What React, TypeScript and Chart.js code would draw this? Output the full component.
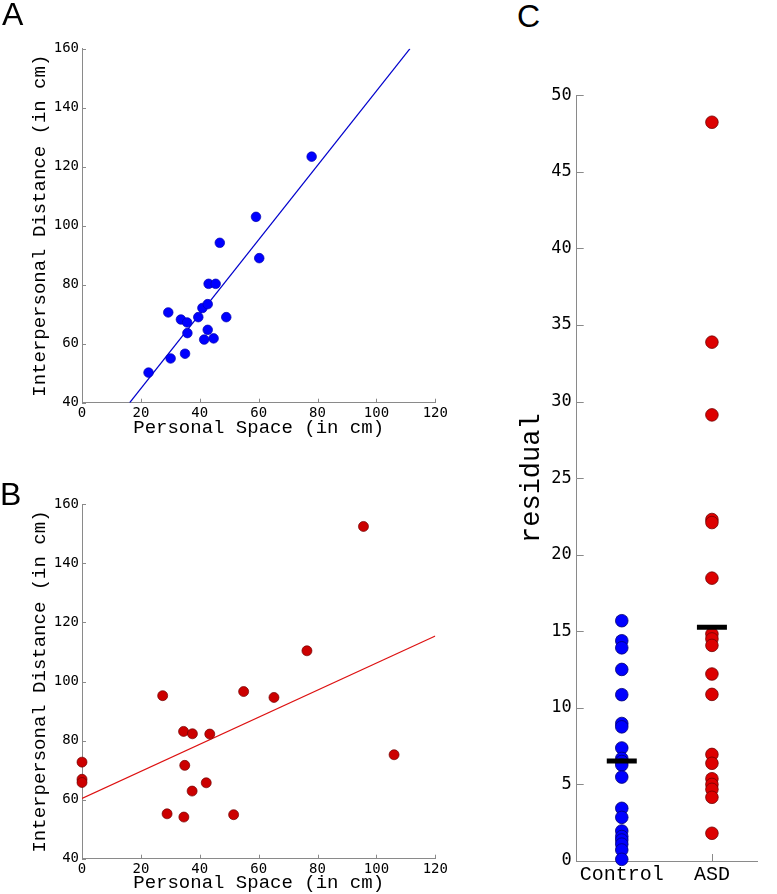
import React, { useEffect, useRef } from 'react';
import { Chart, registerables } from 'chart.js';

Chart.register(...registerables);

// ---------- Panel A: Control ----------
const personalSpaceControl = [22.6, 29.3, 30.1, 33.6, 35.7, 35.8, 35.0, 39.5, 40.9, 42.7, 43.0, 45.4, 42.7, 41.5, 44.7, 46.8, 49.0, 59.1, 60.2, 78.0];
const interpersonalControl = [50.2, 70.6, 55.0, 68.2, 67.2, 63.6, 56.6, 69.0, 72.1, 73.4, 80.3, 80.3, 64.7, 61.4, 61.8, 94.2, 69.0, 103.0, 89.0, 123.4];
const fitControlX = [16.2, 111.4];
const fitControlY = [40, 160];

// ---------- Panel B: ASD ----------
const personalSpaceASD = [0, 0, 0, 27.4, 28.9, 34.5, 37.5, 43.4, 34.9, 37.4, 42.2, 34.6, 51.5, 54.9, 65.2, 76.4, 95.6, 106.0];
const interpersonalASD = [72.7, 66.9, 65.8, 95.2, 55.2, 83.1, 82.3, 82.2, 71.6, 62.9, 65.7, 54.1, 54.9, 96.6, 94.6, 110.4, 152.5, 75.2];
const fitASDX = [0, 120];
const fitASDY = [60.4, 115.4];

// ---------- Panel C: residuals ----------
const groups = ['Control', 'ASD'];
const residualControl = [15.69, 14.38, 13.92, 12.51, 10.86, 8.98, 8.76, 7.38, 6.7, 6.5, 6.27, 5.48, 3.44, 2.85, 1.96, 1.6, 1.37, 1.1, 0.72, 0.11];
const residualASD = [48.24, 33.88, 29.13, 22.3, 22.1, 18.47, 14.82, 14.5, 14.08, 12.21, 10.88, 6.96, 6.38, 5.37, 5.0, 4.68, 4.16, 1.81];
const groupMeans = [6.53, 15.27];

// ticks
const psTicks = { min: 0, max: 120, step: 20 };
const idTicks = { min: 40, max: 160, step: 20 };
const resTicks = { min: 0, max: 50, step: 5 };

const AXIS_COLOR = '#8a8a8a';

function inwardTicks(len: number, xCats?: number[]) {
  return {
    id: 'inwardTicks',
    beforeDatasetsDraw(chart: any) {
      const ctx = chart.ctx;
      const xs = chart.scales.x;
      const ys = chart.scales.y;
      ctx.save();
      ctx.strokeStyle = AXIS_COLOR;
      ctx.lineWidth = 1;
      const xvals = xCats ? xCats : xs.ticks.map((t: any) => t.value);
      xvals.forEach((v: number) => {
        const px = Math.round(xs.getPixelForValue(v)) + 0.5;
        ctx.beginPath();
        ctx.moveTo(px, ys.bottom);
        ctx.lineTo(px, ys.bottom - len);
        ctx.stroke();
      });
      ys.ticks.forEach((t: any) => {
        const py = Math.round(ys.getPixelForValue(t.value)) + 0.5;
        ctx.beginPath();
        ctx.moveTo(xs.left, py);
        ctx.lineTo(xs.left + len, py);
        ctx.stroke();
      });
      ctx.restore();
    },
  };
}

const tickFontSmall = { family: 'DejaVu Sans Mono', size: 14 };
const titleFont = { family: 'Liberation Mono', size: 19 };
const noGrid = { display: false, drawTicks: false, tickLength: 0 };

function scatterConfig(
  xs: number[], ys: number[], fx: number[], fy: number[],
  fill: string, edge: string, lineColor: string, radius: number,
  padTop: number, xHeight: number, titleBottomPad: number
) {
  return {
    type: 'scatter',
    data: {
      datasets: [
        {
          data: xs.map((x, i) => ({ x, y: ys[i] })),
          backgroundColor: fill,
          borderColor: edge,
          borderWidth: 0.7,
          pointRadius: radius,
          clip: false,
          order: 1,
        },
        {
          data: fx.map((x, i) => ({ x, y: fy[i] })),
          showLine: true,
          borderColor: lineColor,
          borderWidth: 1.2,
          pointRadius: 0,
          order: 2,
        },
      ],
    },
    options: {
      responsive: false,
      animation: false,
      devicePixelRatio: 1,
      layout: { padding: { top: padTop, right: 14.7, left: 0, bottom: 0 } },
      plugins: { legend: { display: false }, tooltip: { enabled: false } },
      scales: {
        x: {
          type: 'linear',
          min: psTicks.min,
          max: psTicks.max,
          ticks: { stepSize: psTicks.step, font: tickFontSmall, color: '#000', padding: 2, autoSkip: false, maxRotation: 0 },
          grid: noGrid,
          border: { color: AXIS_COLOR, width: 1 },
          title: { display: true, text: 'Personal Space (in cm)', font: titleFont, color: '#000', padding: { top: 0, bottom: titleBottomPad } },
          afterFit: (s: any) => { s.height = xHeight; },
        },
        y: {
          type: 'linear',
          min: idTicks.min,
          max: idTicks.max,
          ticks: { stepSize: idTicks.step, font: tickFontSmall, color: '#000', padding: 3, autoSkip: false },
          grid: noGrid,
          border: { color: AXIS_COLOR, width: 1 },
          title: { display: true, text: 'Interpersonal Distance (in cm)', font: titleFont, color: '#000', padding: { top: 28.6, bottom: 0 } },
          afterFit: (s: any) => { s.width = 82; },
        },
      },
    },
    plugins: [inwardTicks(4)],
  };
}

function residualConfig() {
  const dots = (vals: number[], gi: number, fill: string, edge: string) => ({
    data: vals.map((v) => ({ x: gi + 1, y: v })),
    backgroundColor: fill,
    borderColor: edge,
    borderWidth: 0.8,
    pointRadius: 6.3,
    clip: false,
    order: 2,
  });
  return {
    type: 'scatter',
    data: {
      datasets: [
        dots(residualControl, 0, '#0000ff', '#00006e'),
        dots(residualASD, 1, '#dd0000', '#6e0000'),
        {
          data: groupMeans.map((m, i) => ({ x: i + 1, y: m })),
          pointStyle: 'line',
          pointRadius: 15,
          borderColor: '#000',
          backgroundColor: '#000',
          borderWidth: 5,
          order: 0,
        },
      ],
    },
    options: {
      responsive: false,
      animation: false,
      devicePixelRatio: 1,
      layout: { padding: { top: 35.3, right: 1.5, left: 0, bottom: 0 } },
      plugins: { legend: { display: false }, tooltip: { enabled: false } },
      scales: {
        x: {
          type: 'linear',
          min: 0.5,
          max: groups.length + 0.5,
          afterBuildTicks: (s: any) => { s.ticks = groups.map((_, i) => ({ value: i + 1 })); },
          ticks: {
            callback: (v: any) => groups[Math.round(Number(v)) - 1] ?? '',
            font: { family: 'Liberation Mono', size: 20 },
            color: '#000',
            padding: 2,
            autoSkip: false,
            maxRotation: 0,
          },
          grid: noGrid,
          border: { color: AXIS_COLOR, width: 1 },
          afterFit: (s: any) => { s.height = 33; },
        },
        y: {
          type: 'linear',
          min: resTicks.min,
          max: resTicks.max,
          ticks: { stepSize: resTicks.step, font: { family: 'DejaVu Sans Mono', size: 17 }, color: '#000', padding: 5, autoSkip: false },
          grid: noGrid,
          border: { color: AXIS_COLOR, width: 1 },
          title: { display: true, text: 'residual', font: { family: 'Liberation Mono', size: 27 }, color: '#000', padding: { top: 35.8, bottom: 0 } },
          afterFit: (s: any) => { s.width = 96.7; },
        },
      },
    },
    plugins: [inwardTicks(7, groups.map((_, i) => i + 1))],
  };
}

function ChartBox(props: { left: number; top: number; width: number; height: number; config: () => any }) {
  const ref = useRef<HTMLCanvasElement>(null);
  useEffect(() => {
    const chart = new Chart(ref.current as HTMLCanvasElement, props.config());
    return () => chart.destroy();
  }, []);
  return (
    <canvas
      ref={ref}
      width={props.width}
      height={props.height}
      style={{ position: 'absolute', left: props.left, top: props.top, width: props.width, height: props.height }}
    />
  );
}

const letterStyle = (left: number, top: number): React.CSSProperties => ({
  position: 'absolute',
  left,
  top,
  fontFamily: 'Liberation Sans, Arial, sans-serif',
  fontSize: 32,
  lineHeight: '32px',
  color: '#000',
});

export default function App() {
  return (
    <div style={{ position: 'absolute', left: 0, top: 0, width: 777, height: 894, background: '#fff', overflow: 'hidden' }}>
      <ChartBox
        left={0}
        top={20}
        width={450}
        height={420}
        config={() =>
          scatterConfig(personalSpaceControl, interpersonalControl, fitControlX, fitControlY, '#0000ff', '#0000b0', '#0000cc', 4.8, 28.7, 37.3, 1)
        }
      />
      <ChartBox
        left={0}
        top={480}
        width={450}
        height={414}
        config={() =>
          scatterConfig(personalSpaceASD, interpersonalASD, fitASDX, fitASDY, '#cc0000', '#700000', '#dd1111', 5, 24.3, 35.3, 0)
        }
      />
      <ChartBox left={480} top={60} width={297} height={834} config={residualConfig} />
      <div style={letterStyle(2, -2)}>A</div>
      <div style={letterStyle(0, 478)}>B</div>
      <div style={letterStyle(517, 0)}>C</div>
    </div>
  );
}
